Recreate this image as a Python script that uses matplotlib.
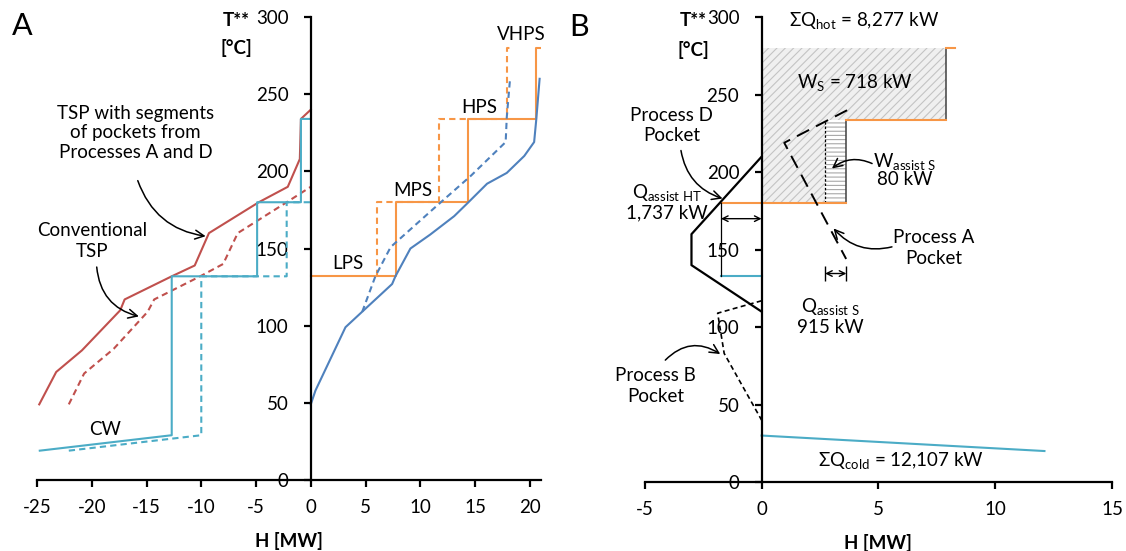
import matplotlib
matplotlib.use("Agg")
import matplotlib.pyplot as plt

RED, CYAN, ORANGE, BLUE = "#c0504d", "#4bacc6", "#f79646", "#4f81bd"
FS = 13.5

plt.rcParams.update({
    "font.family": ["Lato", "DejaVu Sans"],
    "mathtext.fontset": "custom",
    "mathtext.rm": "Lato", "mathtext.it": "Lato", "mathtext.bf": "Lato:bold",
    "axes.unicode_minus": False,
    "hatch.linewidth": 0.8,
    "axes.linewidth": 1.6,
    "xtick.major.width": 1.6, "ytick.major.width": 1.6,
    "xtick.major.size": 5, "ytick.major.size": 5,
    "xtick.major.pad": 9, "ytick.major.pad": 11,
    "xtick.labelsize": FS, "ytick.labelsize": FS,
})

# ---- panel A: total site profiles ----
tsp_new_h = [-24.8, -23.25, -20.9, -17.4, -17.0, -12.7, -10.6, -9.3, -4.75, -2.1, -1.0, -0.9, 0]
tsp_new_t = [49, 70, 84, 110, 117, 132, 139, 160, 180, 190, 208, 234, 240]
tsp_conv_h = [-22.1, -20.7, -18.0, -14.9, -14.3, -10.1, -8.0, -6.67, -2.2, 0]
tsp_conv_t = [49, 69, 85, 109, 117, 132, 140, 160, 180, 190]

cw_new_h = [-24.75, -12.7, -12.7, -4.9, -4.9, -0.9, -0.9, 0]
cw_new_t = [19, 29, 132, 132, 180, 180, 234, 234]
cw_conv_h = [-22.1, -10.0, -10.0, -2.2, -2.2, 0]
cw_conv_t = [19, 29, 132, 132, 180, 180]

steam_new_h = [0, 7.8, 7.8, 14.4, 14.4, 20.6, 20.6, 20.9]
steam_new_t = [132.4, 132.4, 180, 180, 234, 234, 280, 280]
steam_conv_h = [6.06, 6.06, 11.75, 11.75, 17.9, 17.9, 18.2]
steam_conv_t = [132.4, 180, 180, 234, 234, 280, 280]

cold_new_h = [0, 0.43, 3.17, 4.84, 7.43, 7.73, 9.1, 10.9, 13.1, 14.4, 16.1, 17.9, 19.5, 20.4, 20.6, 20.9]
cold_new_t = [49, 58, 99, 110, 127, 132, 150, 159, 171, 180, 192, 199, 210, 219, 234, 260]
cold_conv_h = [4.7, 5.9, 7.3, 11.4, 14.6, 17.8, 17.9, 18.2]
cold_conv_t = [109, 132, 151, 177, 197, 219, 235, 260]

levels = ["LPS", "MPS", "HPS", "VHPS"]

# ---- panel B: pockets and assisted heat ----
hot_h = [-1.737, 3.63]
hot_t = [180, 180]
hot_mid_h = [3.63, 7.91]
hot_mid_t = [234, 234]
hot_top_h = [7.91, 8.277]
hot_top_t = [280, 280]
cold_b_h = [0, 12.107]
cold_b_t = [30, 20]
cw_short_h = [-1.737, 0]
cw_short_t = [133, 133]
ws_h = [0, 2.72, 2.72, 7.91, 7.91, 0]
ws_t = [180, 180, 234, 234, 280, 280]
wassist_h = [2.72, 3.63, 3.63, 2.72]
wassist_t = [180, 180, 234, 234]
pocket_a_h = [3.66, 0.97, 3.62]
pocket_a_t = [240, 219, 144]
pocket_d_h = [0, -3.0, -3.0, 0]
pocket_d_t = [210, 160, 140, 110]
pocket_b_h = [0, -1.88, -1.6, 0]
pocket_b_t = [117, 109, 83, 40]
q_assist_ht = 1.737
q_assist_s = (2.72, 3.63)

fig = plt.figure(figsize=(11.26, 5.51), dpi=100)
axA = fig.add_axes([0.0329, 0.1289, 0.4473, 0.8401])
axB = fig.add_axes([0.5726, 0.1252, 0.4150, 0.8434])


def frame(ax, xlim, xticks):
    ax.set_xlim(*xlim)
    ax.set_ylim(0, 300)
    ax.set_xticks(xticks)
    ax.set_yticks(range(0, 301, 50))
    ax.spines["left"].set_position(("data", 0))
    ax.spines["bottom"].set_position(("data", 0))
    ax.spines[["top", "right"]].set_visible(False)
    ax.tick_params(direction="out")
    ax.set_xlabel("H [MW]", fontsize=FS, fontweight="bold", labelpad=11)
    ax.patch.set_alpha(0)


def curved(ax, start, tip, rad):
    ax.annotate("", xy=tip, xytext=start,
                arrowprops=dict(arrowstyle="->", color="black", lw=1.1, mutation_scale=16,
                                shrinkA=0, shrinkB=0, connectionstyle=f"arc3,rad={rad}"))


# panel A
frame(axA, (-25, 21), range(-25, 21, 5))
lw = 1.5
axA.plot(tsp_new_h, tsp_new_t, color=RED, lw=lw)
axA.plot(tsp_conv_h, tsp_conv_t, color=RED, lw=lw, ls=(0, (3, 2)))
axA.plot(cw_new_h, cw_new_t, color=CYAN, lw=lw)
axA.plot(cw_conv_h, cw_conv_t, color=CYAN, lw=lw, ls=(0, (3, 2)))
axA.plot(steam_new_h, steam_new_t, color=ORANGE, lw=lw)
axA.plot(steam_conv_h, steam_conv_t, color=ORANGE, lw=lw, ls=(0, (3, 2)))
axA.plot(cold_new_h, cold_new_t, color=BLUE, lw=lw)
axA.plot(cold_conv_h, cold_conv_t, color=BLUE, lw=lw, ls=(0, (3, 2)))

axA.text(-6.8, 298, "T**", fontsize=FS, fontweight="bold", ha="center", va="center")
axA.text(-6.8, 280, "[°C]", fontsize=FS, fontweight="bold", ha="center", va="center")
axA.text(-16.0, 225, "TSP with segments\nof pockets from\nProcesses A and D",
         fontsize=FS, ha="center", va="center", linespacing=1.2)
axA.text(-19.95, 155, "Conventional\nTSP", fontsize=FS, ha="center", va="center", linespacing=1.25)
axA.text(-18.8, 32.4, "CW", fontsize=FS, ha="center", va="center")
for name, x, y in zip(levels, [3.4, 9.28, 15.4, 19.25], [140.6, 187.5, 241.5, 288.4]):
    axA.text(x, y, name, fontsize=FS, ha="center", va="center")
curved(axA, (-15.8, 194), (-9.6, 158), 0.3)
curved(axA, (-19.55, 138), (-15.7, 106), 0.35)

# panel B
frame(axB, (-5, 15), range(-5, 16, 5))
axB.fill(ws_h, ws_t, facecolor="#f0f0f0", edgecolor="#c4c4c4", hatch="////", lw=0, zorder=1)
axB.fill(wassist_h, wassist_t, facecolor="white", edgecolor="#a8a8a8", hatch="----", lw=0, zorder=1)
axB.plot([wassist_h[0]] * 2, [wassist_t[0], wassist_t[2]], color="black", lw=0.9, ls=(0, (2, 1.5)))
axB.plot([hot_h[1]] * 2, [hot_t[1], hot_mid_t[0]], color="#404040", lw=1.1)
axB.plot([hot_mid_h[1]] * 2, [hot_mid_t[1], hot_top_t[0]], color="#404040", lw=1.1)
axB.plot(hot_h, hot_t, color=ORANGE, lw=lw)
axB.plot(hot_mid_h, hot_mid_t, color=ORANGE, lw=lw)
axB.plot(hot_top_h, hot_top_t, color=ORANGE, lw=lw)
axB.plot(cold_b_h, cold_b_t, color=CYAN, lw=lw)
axB.plot(cw_short_h, cw_short_t, color=CYAN, lw=lw)
axB.plot([-q_assist_ht] * 2, [hot_t[0], cw_short_t[0]], color="black", lw=0.9)
axB.plot(pocket_d_h, pocket_d_t, color="black", lw=1.6)
axB.plot(pocket_a_h, pocket_a_t, color="black", lw=1.4, ls=(0, (7, 4)))
axB.plot(pocket_b_h, pocket_b_t, color="black", lw=1.2, ls=(0, (3, 2)))

axB.annotate("", xy=(0, 170), xytext=(-q_assist_ht, 170),
             arrowprops=dict(arrowstyle="<->", color="black", lw=1, shrinkA=0, shrinkB=0))
axB.annotate("", xy=(q_assist_s[1], 134.6), xytext=(q_assist_s[0], 134.6),
             arrowprops=dict(arrowstyle="<->", color="black", lw=1, shrinkA=0, shrinkB=0))
axB.vlines(q_assist_s, 129.5, 139.5, color="black", lw=1)

axB.text(-2.92, 298, "T**", fontsize=FS, fontweight="bold", ha="center", va="center")
axB.text(-2.92, 279, "[°C]", fontsize=FS, fontweight="bold", ha="center", va="center")
axB.text(4.4, 298, r"ΣQ$_\mathregular{hot}$ = 8,277 kW", fontsize=FS, ha="center", va="center")
axB.text(4.0, 258, r"W$_\mathregular{S}$ = 718 kW", fontsize=FS, ha="center", va="center")
axB.text(-3.84, 230, "Process D\nPocket", fontsize=FS, ha="center", va="center", linespacing=1.25)
axB.text(-4.07, 187, r"Q$_\mathregular{assist\ HT}$", fontsize=FS, ha="center", va="center")
axB.text(-4.07, 174, "1,737 kW", fontsize=FS, ha="center", va="center")
axB.text(6.11, 207, r"W$_\mathregular{assist\ S}$", fontsize=FS, ha="center", va="center")
axB.text(6.11, 195, "80 kW", fontsize=FS, ha="center", va="center")
axB.text(7.35, 151, "Process A\nPocket", fontsize=FS, ha="center", va="center", linespacing=1.25)
axB.text(2.94, 113, r"Q$_\mathregular{assist\ S}$", fontsize=FS, ha="center", va="center")
axB.text(2.94, 100, "915 kW", fontsize=FS, ha="center", va="center")
axB.text(-4.55, 62, "Process B\nPocket", fontsize=FS, ha="center", va="center", linespacing=1.25)
axB.text(5.98, 14, r"ΣQ$_\mathregular{cold}$ = 12,107 kW", fontsize=FS, ha="center", va="center")
curved(axB, (-3.45, 214), (-1.67, 183), 0.3)
curved(axB, (4.73, 205.6), (3.01, 202.4), 0.3)
curved(axB, (5.58, 151.8), (3.08, 163.7), -0.3)
curved(axB, (-4.12, 78.7), (-1.77, 82.6), -0.4)

fig.text(22 / 1126, 1 - 26 / 551, "A", fontsize=22, ha="center", va="center")
fig.text(579 / 1126, 1 - 27 / 551, "B", fontsize=22, ha="center", va="center")

fig.savefig("out.png", dpi=100)
